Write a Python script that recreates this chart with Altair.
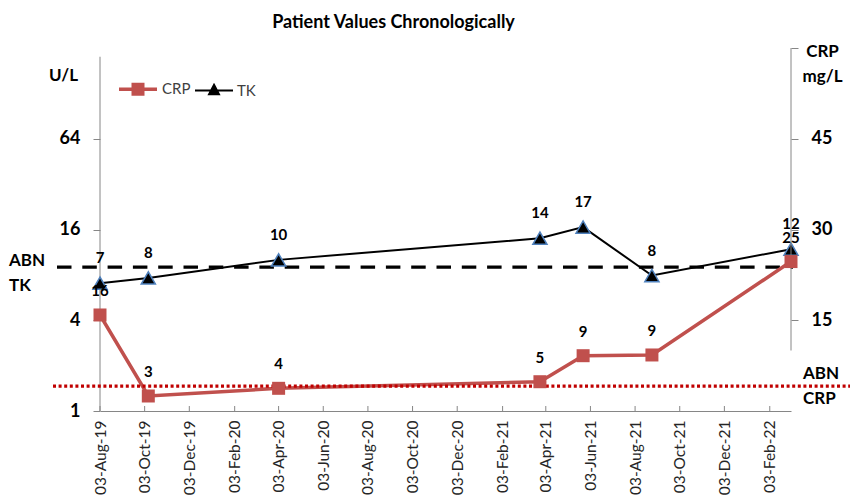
import altair as alt
import pandas as pd

# ---- data ----
dates = ["2019-08-03", "2019-10-08", "2020-04-03", "2021-03-26",
         "2021-05-24", "2021-08-26", "2022-03-04"]
tk_values = [7.05, 7.64, 10.06, 14.0, 16.6, 7.92, 11.85]
tk_labels = ["7", "8", "10", "14", "17", "8", "12"]
crp_values = [15.87, 2.48, 3.75, 4.84, 9.14, 9.26, 24.7]
crp_labels = ["16", "3", "4", "5", "9", "9", "25"]

abn_tk = 9.0
abn_crp = 4.1

tick_dates = ["2019-08-03", "2019-10-03", "2019-12-03", "2020-02-03",
              "2020-04-03", "2020-06-03", "2020-08-03", "2020-10-03",
              "2020-12-03", "2021-02-03", "2021-04-03", "2021-06-03",
              "2021-08-03", "2021-10-03", "2021-12-03", "2022-02-03"]
x_start = "2019-08-03"
x_end = "2022-03-04"

left_ticks = [1, 4, 16, 64]
right_ticks = [15, 30, 45, 60]

# ---- tables ----
long_df = pd.DataFrame({
    "date": dates * 2,
    "series": ["CRP"] * len(dates) + ["TK"] * len(dates),
    "value": crp_values + tk_values,
    "label": crp_labels + tk_labels,
})
tk_df = long_df[long_df.series == "TK"]
crp_df = long_df[long_df.series == "CRP"]
ticks_df = pd.DataFrame({"date": tick_dates})

W, H = 691, 363
FONT = "Lato"
RED = "#C0504D"
AXIS_GREY = "#868686"

def dt(s):
    y, m, d = (int(p) for p in s.split("-"))
    return alt.DateTime(year=y, month=m, date=d, utc=True)

x_scale = alt.Scale(type="utc", domain=[dt(x_start), dt(x_end)])
x_axis = alt.Axis(values=[dt(t) for t in tick_dates], format="%d-%b-%y",
                  labelAngle=270, labelAlign="right", labelBaseline="middle",
                  labelFont=FONT, labelFontSize=15.5, labelColor="#262626",
                  labelPadding=9, ticks=False, grid=False,
                  domainColor=AXIS_GREY, title=None)

def X(field="date:T"):
    return alt.X(field, scale=x_scale, axis=x_axis)

tk_scale = alt.Scale(type="log", base=2, domain=[1, 256], nice=False)
crp_scale = alt.Scale(type="linear", domain=[0, 60], nice=False, zero=False)

left_axis = alt.Axis(values=left_ticks, orient="left", grid=False, domain=False,
                     tickSize=7, tickColor=AXIS_GREY, labelPadding=13,
                     labelFont=FONT, labelFontSize=18, labelFontWeight="bold",
                     labelColor="black", title="U/L", titleAngle=0,
                     titleX=-37, titleY=27, titleAlign="center",
                     titleBaseline="middle", titleFont=FONT, titleFontSize=17,
                     titleFontWeight="bold", titleColor="black")
right_axis = alt.Axis(values=right_ticks, orient="right", grid=False,
                      domain=False, tickSize=7, tickColor=AXIS_GREY,
                      labelPadding=13, labelFont=FONT, labelFontSize=18,
                      labelFontWeight="bold", labelColor="black",
                      labelExpr="datum.value == 60 ? '' : datum.label",
                      title=["CRP", "mg/L"], titleAngle=0, titleX=31,
                      titleY=3, titleAlign="center", titleBaseline="middle",
                      titleLineHeight=25, titleFont=FONT, titleFontSize=17,
                      titleFontWeight="bold", titleColor="black")

def YTK(field="value:Q"):
    return alt.Y(field, scale=tk_scale, axis=left_axis)

def YCRP(field="value:Q"):
    return alt.Y(field, scale=crp_scale, axis=right_axis)

# ---- legend carrier (invisible points, visible legend) ----
dom = ["CRP", "TK"]
path_crp = "M-1,0H1M-0.25,-0.25H0.25V0.25H-0.25Z"
path_tk = "M-1,0H1M0,-0.3L0.26,0.2H-0.26Z"
leg = alt.Legend(title=None, orient="none", legendX=17, legendY=20,
                 direction="horizontal", symbolSize=1444, symbolOpacity=1,
                 labelFont=FONT, labelFontSize=15, labelColor="#404040",
                 labelOffset=3, columnPadding=0, padding=0)
legend_layer = alt.Chart(long_df).mark_point(opacity=0, filled=True).encode(
    x=X(), y=YTK(),
    shape=alt.Shape("series:N", scale=alt.Scale(domain=dom, range=[path_crp, path_tk]), legend=leg),
    fill=alt.Fill("series:N", scale=alt.Scale(domain=dom, range=[RED, "black"]), legend=leg),
    stroke=alt.Stroke("series:N", scale=alt.Scale(domain=dom, range=[RED, "black"]), legend=leg),
    strokeWidth=alt.StrokeWidth("series:N", scale=alt.Scale(domain=dom, range=[3.5, 2]), legend=leg),
)

# ---- TK (left axis) ----
tk_line = alt.Chart(tk_df).mark_line(color="black", strokeWidth=2).encode(x=X(), y=YTK())
tk_pts = alt.Chart(tk_df).mark_point(shape="triangle-up", filled=True, size=200,
                                     fill="black", stroke="#4F81BD", strokeWidth=1.5,
                                     opacity=1).encode(x=X(), y=YTK())
tk_text = alt.Chart(tk_df).mark_text(dy=-25, font=FONT, fontSize=15, fontWeight="bold",
                                     color="black", baseline="middle").encode(
    x=X(), y=YTK(), text="label:N")
abn_tk_rule = alt.Chart(pd.DataFrame({"v": [abn_tk]})).mark_rule(
    color="black", strokeWidth=3.3, strokeDash=[14.5, 10.8]).encode(
    x=alt.value(-43), x2=alt.value(693), y=YTK("v:Q"))
abn_tk_text = alt.Chart(pd.DataFrame({"v": [abn_tk], "t": ["ABN\nTK"]})).mark_text(
    align="left", baseline="middle", lineBreak="\n", lineHeight=25, dy=-6,
    font=FONT, fontSize=17, fontWeight="bold", color="black").encode(
    x=alt.value(-91), y=YTK("v:Q"), text="t:N")
left_rule = alt.Chart(pd.DataFrame({"d": [x_start], "a": [1], "b": [224]})).mark_rule(
    color=AXIS_GREY, strokeWidth=1).encode(
    x=X("d:T"), y=YTK("a:Q"), y2="b:Q")
x_ticks = alt.Chart(ticks_df).mark_rule(color=AXIS_GREY, strokeWidth=1).encode(
    x=X(), y=alt.value(H - 5), y2=alt.value(H))

tk_layer = alt.layer(tk_line, legend_layer, abn_tk_rule, left_rule, x_ticks,
                     tk_pts, tk_text, abn_tk_text)

# ---- CRP (right axis) ----
abn_crp_rule = alt.Chart(pd.DataFrame({"v": [abn_crp]})).mark_rule(
    color="#C00000", strokeWidth=3.3, strokeDash=[3, 2.6]).encode(
    x=alt.value(-47), x2=alt.value(757), y=YCRP("v:Q"))
abn_crp_text = alt.Chart(pd.DataFrame({"v": [abn_crp], "t": ["ABN\nCRP"]})).mark_text(
    align="left", baseline="middle", lineBreak="\n", lineHeight=25, dy=-12,
    font=FONT, fontSize=17, fontWeight="bold", color="black").encode(
    x=alt.value(703), y=YCRP("v:Q"), text="t:N")
right_rule = alt.Chart(pd.DataFrame({"d": [x_end], "a": [10], "b": [60]})).mark_rule(
    color=AXIS_GREY, strokeWidth=1).encode(
    x=X("d:T"), y=YCRP("a:Q"), y2="b:Q")
crp_line = alt.Chart(crp_df).mark_line(color=RED, strokeWidth=3.5).encode(x=X(), y=YCRP())
crp_pts = alt.Chart(crp_df).mark_square(size=169, color=RED, opacity=1).encode(x=X(), y=YCRP())
crp_text = alt.Chart(crp_df).mark_text(dy=-24, font=FONT, fontSize=15, fontWeight="bold",
                                       color="black", baseline="middle").encode(
    x=X(), y=YCRP(), text="label:N")

crp_layer = alt.layer(crp_line, abn_crp_rule, right_rule, crp_pts, crp_text, abn_crp_text)

chart = alt.layer(tk_layer, crp_layer).resolve_scale(y="independent").properties(
    width=W, height=H,
    title=alt.TitleParams("Patient Values Chronologically", font=FONT, fontSize=18,
                          fontWeight="bold", color="black", anchor="middle",
                          frame="group", dx=-52, offset=10),
    autosize=alt.AutoSizeParams(type="none"),
    padding={"left": 92, "top": 40, "right": 59, "bottom": 89},
    background="white",
).configure_view(stroke=None)

chart.save("out.html", embed_options={"renderer": "svg", "actions": False})
